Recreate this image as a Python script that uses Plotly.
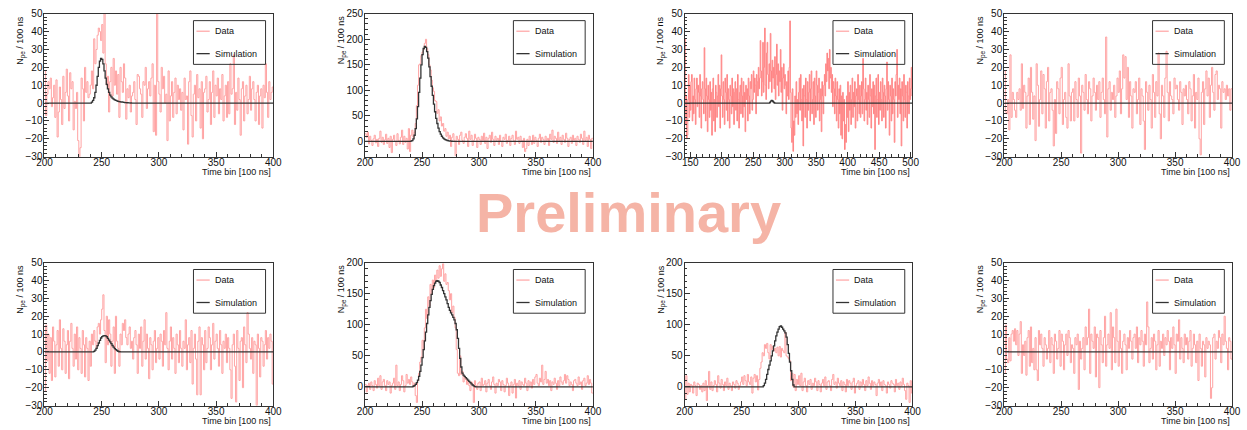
import numpy as np
import plotly.graph_objects as go

# ---------------- data ----------------
P1_FIRST_BIN = 200
P1_DATA = [18, -7, 5, 12, 8, 14, -2, 3, 10, -8, 13, -19, -5, 9, 2, -12, 15, -3, 6, 19,
           4, -10, 17, 8, 12, -15, 1, -3, 6, -21, -32, -25, 14, 8, -10, 20, 6, 12, 3, 5,
           10, 18, 8, 36, 22, 30, 38, 42, 40, 35, 44, 28, 55, 22, 10, 15, -5, 12, 20, 4,
           25, 10, 18, 5, 16, -8, 20, 12, 6, 22, 14, -9, 8, 3, 10, -5, 4, 6, 12, 2,
           -12, 16, 15, 8, 5, -8, 12, 10, 20, -3, 8, 12, 4, 14, 22, -16, 10, -18, 55, 12,
           5, -5, 20, 8, 15, 0, 5, -21, 18, -10, 4, 12, -8, 6, 14, -6, 10, 2, 8, -4,
           6, -15, 14, 2, 4, -23, 12, 18, -7, -19, 5, 10, -10, 16, 3, 8, -14, 12, -20, 6,
           8, 15, -5, 2, 12, -12, 6, 18, -8, 10, 4, 14, -6, 8, 2, 16, -10, 4, 10, -8,
           12, -6, 22, 5, 8, 27, -12, 6, -4, 14, 2, -18, 8, 12, -10, 4, 10, -6, 2, 15,
           -4, 8, 12, 2, -10, 6, 10, -12, 4, 8, -14, 10, 3, 22, 6, -8, 12, 2, 6, 9]
P1_SIM_FIRST_BIN = 241
P1_SIM = [0.5, 1.5, 3, 6, 10, 15, 20, 23.5, 25, 24.5, 22, 18, 14, 10.5, 8, 6, 4.5, 3.5,
          2.8, 2.2, 1.8, 1.5, 1.2, 1, 0.8, 0.7, 0.6, 0.5, 0.4, 0.3, 0.25, 0.2, 0.15, 0.1, 0.05]

P2_FIRST_BIN = 200
P2_DATA = [15, 8, 18, -5, 10, 2, -8, 5, 12, -3, 4, -10, 6, 20, -2, 8, -6, 3, 14, -4,
           6, -12, 10, -22, 4, 12, 0, -8, 15, 2, -5, 8, 22, -6, 10, -2, 6, -15, 25, -20,
           12, 22, 8, 18, 35, 70, 110, 150, 152, 168, 175, 180, 192, 200, 182, 170, 150, 140, 120, 105,
           98, 80, 78, 55, 62, 40, 48, 30, 35, 20, 25, 10, 18, 5, 12, -10, 8, 15, 2, -28,
           10, 4, -6, 12, 18, 2, -4, 8, 15, 6, -10, 20, 4, 12, -8, 2, 14, 6, -12, 8,
           4, -6, 10, 2, 16, -4, 8, -14, 6, 12, -2, 18, 4, -8, 10, 2, 6, -6, 12, 0,
           -10, 8, 4, 14, -4, 2, 10, -8, 6, 12, 2, -6, 20, 4, 8, -4, 10, 2, -12, 6,
           -20, -14, 4, -8, 10, 2, -6, 12, -4, 8, 2, -10, 6, 14, -2, 8, 4, -6, 10, 2,
           6, -8, 14, 4, 22, -2, 10, 6, -4, 18, 2, 8, -6, 12, 4, -2, 16, 6, -10, 4,
           8, -4, 12, 2, 6, -8, 10, 4, -2, 14, 6, -6, 20, 2, 8, -10, 12, 4, -14, 6]
P2_SIM_FIRST_BIN = 240
P2_SIM = [0.3, 1.5, 5, 12, 25, 44, 68, 96, 124, 150, 170, 182, 186, 184, 176, 163, 146, 127,
          108, 90, 73, 58, 45, 35, 26, 19, 14, 10, 7, 5, 3.5, 2.5, 1.7, 1.1, 0.7, 0.4, 0.2, 0.1]

P3_FIRST_BIN = 141
P3_DATA = [36, -12, 4, -20, -18, 2, 16, -8, 10, -4, 12, 16, -10, 4, -6, 14, 2, -12, 8, 14,
           -2, 10, 6, -8, 16, 4, -14, 8, 12, 2, -6, 31, 8, -10, 14, 4, -16, 10, 2, -8,
           12, -4, 6, -18, 8, 14, -10, 2, -16, 10, 6, -8, 4, 16, -2, 10, -14, 8, 27, 4,
           -8, 12, 2, -12, 14, 6, -4, 16, -10, 8, 2, -14, 10, 4, -6, 14, -2, 8, -12, 6,
           12, -4, 8, -10, 16, 2, -14, 6, 10, -6, 14, 4, -8, 12, -2, 6, -16, 10, 2, 8,
           -10, 14, 4, -6, 12, 8, 16, -4, 2, 18, 6, 14, 10, -6, 16, 12, 4, 20, 8, 14,
           35, 18, 4, 12, 34, 6, 20, 42, 10, 2, 28, 34, 16, 8, 22, 12, 39, 18, 6, 24,
           14, 20, 8, 26, 2, 16, 33, 10, 22, 4, 18, 12, 30, 6, 20, -4, 14, 22, 8, 16,
           10, -6, 12, 4, 18, 2, 20, 46, 6, -14, -22, 8, -27, -10, -18, 4, -8, 12, -6, 2,
           -12, 6, 14, -4, 16, 2, -10, 8, -24, 10, 4, -8, 14, 2, -14, 12, -4, 6, 16, -10,
           8, 18, -6, 2, 12, -12, 14, 4, -8, 18, 10, -4, 6, 14, -10, 2, 8, -16, 12, 4,
           -6, 10, 16, 4, 22, 12, 28, 18, 25, 8, 30, 14, 20, 6, 16, -2, 12, 8, -6, 14,
           4, -10, 12, 2, -14, 8, -6, 10, -18, 4, -20, 6, -10, 2, -26, -12, -22, 4, -8, 12,
           -16, 6, -4, 10, -12, 2, 14, -8, 6, -2, 12, -14, 4, 8, -10, 16, 2, -6, 10, -8,
           4, 12, -6, 25, 8, -10, 2, 14, -4, 6, -12, 10, 2, -8, 16, 4, -14, 8, -2, 12,
           -6, 10, -26, 4, 14, -8, 2, 16, -12, 6, -4, 12, 2, -10, 14, 6, -8, 10, 4, -14,
           8, 23, -4, 12, 2, -18, 10, 4, -10, 14, -6, 8, 2, -22, 12, 4, 16, 30, -8, 10,
           2, 14, -6, 8, -24, 12, 4, -10, 16, 2, -8, 10, 6, -14, 12, 4, -6, 14, 2, 8,
           20, 4]
P3_SIM_FIRST_BIN = 276
P3_SIM = [0.3, 0.8, 1.2, 1.5, 1.3, 0.9, 0.5, 0.2]

P4_FIRST_BIN = 200
P4_DATA = [18, -5, -6, 2, -15, 27, -8, 6, 2, -4, -8, 6, 2, 8, -4, 22, -3, 10, 6, -14,
           4, 14, -12, 20, 6, -9, 4, -21, 22, 10, -13, 2, 18, -6, 16, 8, -14, 12, 20, -10,
           6, 8, -4, -24, 2, -17, 12, 8, -6, 14, 20, -12, 2, 6, -8, -14, 22, 4, -10, 6,
           8, -10, 12, 2, -8, 14, 4, -28, 10, 6, -4, 16, 2, -6, 12, 8, -10, 4, 14, 6,
           -4, 10, 2, 12, -8, 6, 14, 2, -6, 37, -19, 8, 12, -4, 6, 2, 10, -8, 4, 14,
           6, 18, -6, 8, 27, 14, 26, 2, 20, -8, 12, 4, -14, 8, 6, 12, -6, 2, 14, -12,
           8, 4, -10, -26, 12, 6, -4, 10, 2, -14, 16, 6, -8, 12, 4, 28, -6, -20, 10, 4,
           -8, 14, 29, 6, -10, 12, 4, 2, -6, 14, 8, 10, 2, -4, 12, 6, -12, 8, 4, 10,
           2, -6, 12, 8, -10, 4, 16, -14, 6, 2, 14, -20, -29, 6, 12, -12, 8, 18, 4, 14,
           -8, 10, 20, 6, -4, 16, 18, 2, 10, 8, -14, 12, 6, 8, 2, 10, 4, 8, -4, 8]
P4_SIM_FIRST_BIN = 200
P4_SIM = [0]

P5_FIRST_BIN = 200
P5_DATA = [-22, 15, -5, 10, -12, 8, -16, 14, 6, -14, 4, 12, -8, 18, 2, -10, 13, 6, -12, 4,
           12, -15, 6, 16, 2, -8, 10, -4, 14, -10, 8, 2, -12, 12, 4, -14, 8, 2, -16, 6,
           -8, 10, 4, 12, 6, 2, 14, 16, 10, 18, 24, 32, 12, -6, 20, 4, 18, 10, -8, 6,
           14, -12, 20, 6, 2, -8, 10, 4, 16, 12, 18, 8, 4, 10, 14, 2, 6, -4, 8, 12,
           4, -12, 10, 2, 14, -8, 6, 18, -4, 10, 2, -15, 8, 4, -10, 6, 12, -6, 2, 8,
           -4, 10, 6, -8, 12, 4, 22, 2, -10, 6, 14, -4, 8, 2, -12, 10, 4, -6, 12, 2,
           -8, 6, 2, 18, -10, 4, 8, -6, 12, -18, 2, 10, -4, -24, 6, 14, -24, 8, 4, -10,
           12, -6, 2, 14, 8, -10, 4, 16, -4, 6, 10, 2, -8, 12, 4, -12, 6, 2, 10, -6,
           8, 2, -10, -26, 4, 10, -8, -28, 12, 2, -16, 6, 8, -20, 14, 4, -6, 22, 10, 2,
           -4, 8, -12, 6, 4, -30, 10, 2, -14, 8, 6, -8, 4, 12, -4, 8, 2, 10, 6, -18]
P5_SIM_FIRST_BIN = 243
P5_SIM = [0.3, 1, 2, 3.5, 5, 6.5, 7.8, 8.6, 9, 9.1, 9, 8.5, 7.6, 6.6, 5.6, 4.6, 3.6, 2.7,
          1.9, 1.3, 0.8, 0.4, 0.1]

P6_FIRST_BIN = 200
P6_DATA = [4, -8, 2, 6, -4, 8, 2, -6, 10, 4, -2, 14, 2, 18, -4, 8, 12, 2, -6, 10,
           4, 8, -10, 2, 6, 14, -4, 35, 2, 8, -6, 4, 18, 10, -8, 2, 20, 6, 12, 4,
           16, 8, 2, 6, -14, -25, 10, 22, 40, 48, 75, 60, 95, 125, 110, 145, 130, 165, 150, 172,
           160, 180, 170, 188, 175, 195, 178, 190, 198, 170, 182, 165, 168, 155, 140, 150, 120, 130, 112, 95,
           60, 22, 18, 50, 20, 25, 8, 15, 12, 4, 10, 2, -6, 8, 4, -25, 10, 2, -4, 6,
           8, -6, 14, 2, 4, 10, -8, 6, 12, 2, -4, 8, 16, 4, -10, 6, 2, 12, 8, -6,
           10, 4, -8, 2, 14, 6, -14, 2, 8, -10, 4, 12, -18, 6, 2, 10, -4, 8, 4, 2,
           14, 6, -6, 10, 2, 8, -2, 12, 4, 16, 20, 6, 2, 14, 8, 35, 4, 12, 25, 6,
           12, 2, 10, -6, 8, 4, 14, 6, -4, 10, 2, 16, 8, 4, 10, 20, 6, 18, 12, 2,
           8, 4, -6, 10, 12, 6, 2, 16, 4, 8, -4, 10, 14, 2, 6, 18, 4, 12, 6, -10]
P6_SIM_FIRST_BIN = 242
P6_SIM = [1, 2, 4, 7, 11, 17, 25, 35, 47, 60, 74, 88, 102, 116, 128, 139, 149, 157, 163, 167,
          170, 171, 170, 168, 164, 160, 155, 150, 145, 140, 134, 128, 123, 119, 116, 112, 108,
          102, 92, 78, 62, 46, 32, 22, 19, 17, 15, 13, 11, 9, 7, 5, 3, 1.5, 0.5]

P7_FIRST_BIN = 200
P7_DATA = [-20, 18, -12, 6, -8, 4, 2, -10, 8, 2, -14, 6, 4, -4, 2, -8, 6, -6, 10, -22,
           2, 25, -4, 8, -6, 2, 10, 4, -8, 18, 6, -2, 12, 4, -6, 8, 2, 14, -4, 6,
           2, -6, 8, 4, -2, 10, 6, -4, 2, 8, 16, 4, 18, 10, 2, 20, 8, 4, 16, -10,
           14, 20, 8, 18, -5, 12, 30, 40, 55, 50, 68, 62, 70, 55, 45, 68, 60, 65, 58, 62,
           55, 64, 50, 65, 48, 62, 58, 55, 88, 50, 48, 45, 42, 10, 22, 0, 20, -6, 12, 4,
           18, 2, 22, -6, 8, 14, 2, -8, 10, 4, 12, -4, 6, 2, 14, 8, -6, 10, 4, -8,
           6, 12, 2, 16, -4, 8, 10, 2, -6, 12, 20, 4, 8, -2, 14, 6, 2, 10, -6, 8,
           4, -8, 12, 2, 10, 6, -4, 8, 14, -10, 2, 6, 10, -4, 8, 2, 12, 4, -6, 10,
           2, 16, 6, -4, 10, 2, 8, 4, -14, 6, 12, 2, 8, -6, 10, 4, 2, -10, 8, 4,
           -2, 10, 6, 4, -8, 12, 2, 6, -4, 8, 2, 14, 4, -6, -20, 6, 2, -25, 10, -10]
P7_SIM_FIRST_BIN = 269
P7_SIM = [2, 6, 12, 20, 28, 35, 42, 50, 58, 66, 74, 82, 88, 93, 97, 98, 96, 93, 90, 87,
          80, 68, 54, 40, 26, 12, 3]

P8_FIRST_BIN = 200
P8_DATA = [-12, 15, -4, -6, 8, -5, 10, 12, 6, 13, 4, 12, -2, 10, 17, -12, 4, -2, 6, -13,
           8, 12, -8, 14, -6, 2, -10, 8, -10, -16, 12, 4, 10, 2, -8, 8, 4, -4, 2, 12,
           -6, 8, 4, -12, 10, 6, -4, 2, 12, -8, 10, 6, -10, 4, 10, -2, 12, 8, -6, 4,
           2, -12, 8, 4, 10, -21, 6, -4, 2, 8, -10, 14, 4, 8, 24, -12, 10, 6, 2, 14,
           -14, 10, 8, -20, 12, 4, -6, 8, 20, -8, 4, 10, 2, 22, -10, 14, 8, -6, 24, 6,
           -8, 12, 2, -12, 6, 10, 4, -10, 8, 2, 12, 6, -4, 8, 10, 2, 14, -6, 8, 4,
           12, 6, -8, 10, 4, 28, 14, -6, 2, 8, -4, 10, 6, -10, 4, 12, -8, 6, 2, 10,
           -2, 8, 4, 12, 6, -10, 8, 2, 14, 4, -12, 10, 6, 18, -4, 8, 2, -6, 10, 4,
           8, -4, 6, 12, -8, 2, 10, 4, -6, 6, -16, 10, 2, -8, 6, 4, -14, 8, 2, 6,
           4, -26, -20, 8, 10, -4, 6, 2, 12, 8, -6, 10, 4, 20, 6, 2, -10, 8, 6, -4]
P8_SIM_FIRST_BIN = 200
P8_SIM = [0]

X_RANGES = [[200, 400], [200, 400], [141, 503], [200, 400],
            [200, 400], [200, 400], [200, 400], [200, 400]]
Y_RANGES = [[-30, 50], [-30, 250], [-30, 50], [-30, 50],
            [-30, 50], [-30, 200], [-30, 200], [-30, 50]]
LEGEND_LABELS = ["Data", "Simulation"]
X_TITLE = "Time bin [100 ns]"
Y_TITLE = "N<sub>pe</sub> / 100 ns"
WATERMARK = "Preliminary"

panels = [
    (P1_FIRST_BIN, P1_DATA, P1_SIM_FIRST_BIN, P1_SIM),
    (P2_FIRST_BIN, P2_DATA, P2_SIM_FIRST_BIN, P2_SIM),
    (P3_FIRST_BIN, P3_DATA, P3_SIM_FIRST_BIN, P3_SIM),
    (P4_FIRST_BIN, P4_DATA, P4_SIM_FIRST_BIN, P4_SIM),
    (P5_FIRST_BIN, P5_DATA, P5_SIM_FIRST_BIN, P5_SIM),
    (P6_FIRST_BIN, P6_DATA, P6_SIM_FIRST_BIN, P6_SIM),
    (P7_FIRST_BIN, P7_DATA, P7_SIM_FIRST_BIN, P7_SIM),
    (P8_FIRST_BIN, P8_DATA, P8_SIM_FIRST_BIN, P8_SIM),
]

# ---------------- layout geometry (pixels) ----------------
W, H = 1247, 430
COLS_PX = [(37, 269), (362, 593), (686, 917), (1010, 1241)]
ROWS_PX = [(8, 155), (264, 411)]

DATA_COLOR = "#ffa3a3"
DATA_COLOR_DENSE = "#ff8585"
SIM_COLOR = "#333333"
FRAME_COLOR = "#333333"
FONT = "Liberation Sans, Arial, Helvetica, sans-serif"

fig = go.Figure()
layout = dict(width=W, height=H, margin=dict(l=0, r=0, t=0, b=0),
              paper_bgcolor="white", plot_bgcolor="white", showlegend=False,
              font=dict(family=FONT, size=9, color="#111"))
shapes, annotations = [], []

for i, (first, data, sfirst, sim) in enumerate(panels):
    r, c = divmod(i, 4)
    k = "" if i == 0 else str(i + 1)
    xa, ya = "x" + k, "y" + k
    n = len(data)
    edges = first + np.arange(n + 1)
    y_data = list(data) + [data[-1]]
    sim_full = np.zeros(n)
    s0 = sfirst - first
    for j, v in enumerate(sim):
        if 0 <= s0 + j < n:
            sim_full[s0 + j] = v
    y_sim = list(sim_full) + [sim_full[-1]]

    col = DATA_COLOR_DENSE if i == 2 else DATA_COLOR
    fig.add_trace(go.Scatter(x=edges, y=y_data, mode="lines", xaxis=xa, yaxis=ya,
                             line=dict(shape="hv", color=col, width=1),
                             name=LEGEND_LABELS[0], hoverinfo="skip"))
    fig.add_trace(go.Scatter(x=edges, y=y_sim, mode="lines", xaxis=xa, yaxis=ya,
                             line=dict(shape="hv", color=SIM_COLOR, width=1.3),
                             name=LEGEND_LABELS[1], hoverinfo="skip"))

    x0p, x1p = COLS_PX[c]
    y0p, y1p = ROWS_PX[r]
    yr = Y_RANGES[i]
    big = (yr[1] - yr[0]) > 100
    layout["xaxis" + k] = dict(
        domain=[x0p / W, x1p / W], anchor=ya, range=X_RANGES[i],
        tick0=0, dtick=50, ticks="inside", ticklen=5, tickcolor=FRAME_COLOR,
        minor=dict(dtick=10, ticks="inside", ticklen=2.5, tickcolor=FRAME_COLOR),
        showline=True, mirror=True, linecolor=FRAME_COLOR, linewidth=1,
        showgrid=False, zeroline=False, tickfont=dict(size=10, color="#111"),
        ticklabelstandoff=-4, fixedrange=True)
    layout["yaxis" + k] = dict(
        domain=[1 - y1p / H, 1 - y0p / H], anchor=xa, range=yr,
        tick0=0, dtick=50 if big else 10, ticks="inside", ticklen=5, tickcolor=FRAME_COLOR,
        minor=dict(dtick=10 if big else 2, ticks="inside", ticklen=2.5, tickcolor=FRAME_COLOR),
        showline=True, mirror=True, linecolor=FRAME_COLOR, linewidth=1,
        showgrid=False, zeroline=False, tickfont=dict(size=10, color="#111"),
        ticklabelstandoff=-1, fixedrange=True)

    xd, yd = xa + " domain", ya + " domain"
    # legend box (drawn in domain coordinates of this panel)
    shapes.append(dict(type="rect", xref=xd, yref=yd, x0=0.651, x1=0.966, y0=0.646, y1=0.952,
                       line=dict(color=FRAME_COLOR, width=1), fillcolor="rgba(0,0,0,0)",
                       layer="above"))
    for lab, yy, lc, lw in [(LEGEND_LABELS[0], 0.878, DATA_COLOR, 1.2),
                            (LEGEND_LABELS[1], 0.721, SIM_COLOR, 1.3)]:
        shapes.append(dict(type="line", xref=xd, yref=yd, x0=0.664, x1=0.722, y0=yy, y1=yy,
                           line=dict(color=lc, width=lw), layer="above"))
        annotations.append(dict(text=lab, xref=xd, yref=yd, x=0.735, y=yy, xanchor="left",
                                yanchor="middle", showarrow=False,
                                font=dict(size=9, color="#111", family=FONT)))
    # axis titles (ROOT style, right / top aligned)
    annotations.append(dict(text=X_TITLE, xref=xd, yref=yd, x=1, y=0, xanchor="right",
                            yanchor="middle", yshift=-15, showarrow=False,
                            font=dict(size=9, color="#111", family=FONT)))
    annotations.append(dict(text=Y_TITLE, xref=xd, yref=yd, x=0, y=1, xanchor="center",
                            yanchor="top", xshift=-23, textangle=-90, showarrow=False,
                            font=dict(size=9, color="#111", family=FONT)))

annotations.append(dict(text="<b>" + WATERMARK + "</b>", xref="paper", yref="paper",
                        x=629.5 / W, y=1 - 212 / H, xanchor="center", yanchor="middle",
                        showarrow=False,
                        font=dict(size=56, color="#f5b4a6", family=FONT)))

layout["shapes"] = shapes
layout["annotations"] = annotations
fig.update_layout(**layout)
fig.write_html("out.html", config=dict(displayModeBar=False))
